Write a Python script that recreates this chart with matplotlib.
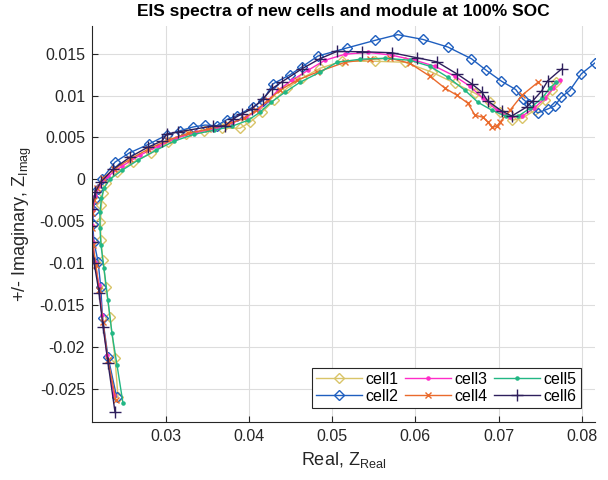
import numpy as np
import matplotlib
matplotlib.use('Agg')
import matplotlib.pyplot as plt

plt.rcParams['font.family'] = ['Liberation Sans', 'DejaVu Sans']

# ===== data (Z real, Z imag) =====
cell1_re = [0.02423, 0.02387, 0.02327, 0.02278, 0.02242, 0.02218, 0.02212, 0.02224, 0.02242, 0.02278,
            0.02411, 0.02603, 0.0282, 0.03024, 0.03241, 0.03457, 0.03674, 0.0389, 0.0401, 0.04155,
            0.043, 0.04456, 0.04636, 0.04852, 0.05117, 0.05514, 0.05875, 0.062, 0.06476, 0.06717,
            0.06897, 0.07017, 0.07162, 0.07282, 0.07438, 0.07559, 0.07643, 0.07691]
cell1_im = [-0.02603, -0.02137, -0.01648, -0.0129, -0.00967, -0.00728, -0.00513, -0.0031, -0.00167, -0.00048,
            0.00084, 0.00203, 0.0031, 0.00442, 0.00537, 0.00573, 0.00609, 0.00609, 0.00681, 0.008,
            0.00943, 0.01087, 0.01206, 0.01325, 0.01409, 0.01409, 0.01397, 0.01278, 0.01146, 0.01027,
            0.00919, 0.008, 0.00704, 0.00728, 0.00824, 0.00943, 0.01063, 0.01158]

cell2_re = [0.02407, 0.02303, 0.02237, 0.02215, 0.02183, 0.02135, 0.02117, 0.02129, 0.02147, 0.02183,
            0.02227, 0.02387, 0.02555, 0.02796, 0.03008, 0.03168, 0.03325, 0.03469, 0.03609, 0.0373,
            0.0385, 0.04046, 0.04166, 0.04286, 0.0449, 0.04631, 0.04827, 0.05172, 0.05512, 0.05785,
            0.06089, 0.0639, 0.06674, 0.06855, 0.07035, 0.07207, 0.07291, 0.07363, 0.07471, 0.07591,
            0.07675, 0.07756, 0.07856, 0.07996, 0.08156]
cell2_im = [-0.02602, -0.02122, -0.01655, -0.01283, -0.00983, -0.00755, -0.0054, -0.00384, -0.0024, -0.0012,
            0.0, 0.00204, 0.00312, 0.0042, 0.00528, 0.00579, 0.00624, 0.00647, 0.00639, 0.00711,
            0.00759, 0.00863, 0.00939, 0.01139, 0.01247, 0.01339, 0.01471, 0.01567, 0.01658, 0.01727,
            0.0167, 0.01579, 0.01439, 0.01299, 0.01171, 0.01071, 0.00959, 0.00899, 0.00791, 0.00839,
            0.00875, 0.00983, 0.01059, 0.01259, 0.01387]

cell3_re = [0.02375, 0.02291, 0.0223, 0.02194, 0.02146, 0.02122, 0.0211, 0.02122, 0.02152, 0.02194,
            0.02302, 0.02471, 0.02687, 0.02904, 0.0312, 0.03361, 0.03601, 0.03794, 0.03962, 0.04107,
            0.04227, 0.04347, 0.04516, 0.04708, 0.04912, 0.05153, 0.05429, 0.05718, 0.05995, 0.06235,
            0.06476, 0.06656, 0.06813, 0.06981, 0.07138, 0.07282, 0.07426, 0.07559, 0.07655, 0.07739]
cell3_im = [-0.02579, -0.02101, -0.01624, -0.01266, -0.00991, -0.00752, -0.00549, -0.0037, -0.00203, -0.00084,
            0.00036, 0.00155, 0.00287, 0.00394, 0.0049, 0.00561, 0.00609, 0.00669, 0.0074, 0.00824,
            0.00943, 0.01063, 0.01182, 0.01301, 0.01421, 0.01493, 0.01516, 0.01481, 0.01421, 0.01349,
            0.0123, 0.0111, 0.00967, 0.00824, 0.0074, 0.00752, 0.00848, 0.00967, 0.01087, 0.01182]

cell4_re = [0.02399, 0.02302, 0.02242, 0.02194, 0.02158, 0.02122, 0.0211, 0.02116, 0.02134, 0.0217,
            0.02242, 0.02375, 0.02567, 0.02783, 0.03024, 0.03265, 0.03505, 0.03746, 0.03938, 0.04083,
            0.04227, 0.04371, 0.04576, 0.04816, 0.05153, 0.05453, 0.05694, 0.05934, 0.06175, 0.06356,
            0.065, 0.06632, 0.06717, 0.06813, 0.06873, 0.06921, 0.06981, 0.07017, 0.07138, 0.07282,
            0.07474]
cell4_im = [-0.02639, -0.02161, -0.01707, -0.01325, -0.01027, -0.00788, -0.00585, -0.00406, -0.00251, -0.00107,
            0.00012, 0.00119, 0.00239, 0.00358, 0.00466, 0.00549, 0.00597, 0.00657, 0.00728, 0.00824,
            0.00943, 0.01063, 0.01182, 0.01278, 0.01397, 0.01433, 0.01445, 0.01385, 0.0123, 0.01087,
            0.01003, 0.00907, 0.00764, 0.0074, 0.00681, 0.00621, 0.00633, 0.00681, 0.00824, 0.01003,
            0.01158]

cell5_re = [0.02483, 0.02411, 0.0235, 0.02302, 0.02254, 0.02218, 0.02206, 0.02206, 0.02224, 0.02254,
            0.02326, 0.02471, 0.02663, 0.0288, 0.03096, 0.03337, 0.03577, 0.03794, 0.03986, 0.04131,
            0.04263, 0.04431, 0.04612, 0.04852, 0.05057, 0.05333, 0.05634, 0.05934, 0.06175, 0.06391,
            0.06596, 0.06752, 0.0692, 0.07089, 0.07234, 0.07378, 0.07522, 0.07618, 0.0769]
cell5_im = [-0.02675, -0.02221, -0.01839, -0.01445, -0.01063, -0.00788, -0.00585, -0.00394, -0.00227, -0.00107,
            0.0, 0.00107, 0.00227, 0.00346, 0.00454, 0.00537, 0.00585, 0.00633, 0.00704, 0.008,
            0.00919, 0.01039, 0.01158, 0.01278, 0.01397, 0.01433, 0.01445, 0.01421, 0.01349, 0.01218,
            0.01063, 0.00919, 0.00824, 0.00752, 0.00752, 0.00848, 0.00967, 0.01087, 0.01158]

cell6_re = [0.02387, 0.02303, 0.02243, 0.02195, 0.02135, 0.02107, 0.02099, 0.0211, 0.02147, 0.02215,
            0.02363, 0.02567, 0.02784, 0.02952, 0.03008, 0.03144, 0.03565, 0.03709, 0.03805, 0.03913,
            0.04034, 0.04166, 0.04274, 0.04394, 0.04635, 0.04851, 0.05055, 0.05356, 0.05716, 0.06017,
            0.06257, 0.06498, 0.06678, 0.06798, 0.0687, 0.07038, 0.07159, 0.07339, 0.07411, 0.07519,
            0.07591, 0.0776]
cell6_im = [-0.02782, -0.02194, -0.01763, -0.01355, -0.00995, -0.00755, -0.00564, -0.0036, -0.00156, -0.00036,
            0.0012, 0.00264, 0.00384, 0.00456, 0.0054, 0.00564, 0.00636, 0.00636, 0.0072, 0.0078,
            0.0084, 0.0096, 0.0108, 0.01163, 0.01319, 0.01439, 0.01526, 0.01523, 0.01511, 0.01451,
            0.01403, 0.01259, 0.01139, 0.01043, 0.00935, 0.00815, 0.00755, 0.00863, 0.00935, 0.01055,
            0.01175, 0.01319]

# ===== figure =====
fig = plt.figure(figsize=(6.08, 4.8), dpi=100)
ax = fig.add_axes([0.1513, 0.1208, 0.8273, 0.825])

ax.plot(cell1_re, cell1_im, color='#d9c468', marker='D', mfc='none', ms=5.5, lw=1, label='cell1')
ax.plot(cell2_re, cell2_im, color='#1f5fbf', marker='D', mfc='none', ms=5.5, lw=1, label='cell2')
ax.plot(cell3_re, cell3_im, color='#ff2bc8', marker='.', ms=4.5, lw=1, label='cell3')
ax.plot(cell4_re, cell4_im, color='#ea6a2c', marker='x', ms=5, lw=1, label='cell4')
ax.plot(cell5_re, cell5_im, color='#22b784', marker='.', ms=4.5, lw=1, label='cell5')
ax.plot(cell6_re, cell6_im, color='#2e1f5c', marker='+', ms=8, lw=1, label='cell6')

ax.set_xlim(0.0211, 0.0816)
ax.set_ylim(-0.0290, 0.0183)
ax.set_xticks([0.03, 0.04, 0.05, 0.06, 0.07, 0.08])
ax.set_xticklabels(['0.03', '0.04', '0.05', '0.06', '0.07', '0.08'])
ax.set_yticks([-0.025, -0.02, -0.015, -0.01, -0.005, 0, 0.005, 0.01, 0.015])
ax.set_yticklabels(['-0.025', '-0.02', '-0.015', '-0.01', '-0.005', '0', '0.005', '0.01', '0.015'])

ax.spines['top'].set_visible(False)
ax.spines['right'].set_visible(False)
for s in ['left', 'bottom']:
    ax.spines[s].set_color('#262626')
    ax.spines[s].set_linewidth(0.8)
ax.tick_params(direction='in', length=4, labelsize=11.5, colors='#262626', pad=5)
ax.grid(True, color='#dddddd', linewidth=0.8)
ax.set_axisbelow(True)

ax.set_xlabel(r'Real, Z$_{\mathregular{Real}}$', fontsize=13, color='#262626', labelpad=4)
ax.set_ylabel(r'+/- Imaginary, Z$_{\mathregular{Imag}}$', fontsize=13, color='#262626', labelpad=4)
ax.set_title('EIS spectra of new cells and module at 100% SOC', fontsize=12.5, fontweight='bold', pad=7)

leg = ax.legend(loc='lower right', ncol=3, fontsize=11.5, fancybox=False, framealpha=1,
                edgecolor='#262626', borderaxespad=0.9, handlelength=2.9, columnspacing=0.4,
                handletextpad=0.2, borderpad=0.25, labelspacing=0.1)
leg.get_frame().set_linewidth(0.8)

plt.savefig('out.png', dpi=100)
